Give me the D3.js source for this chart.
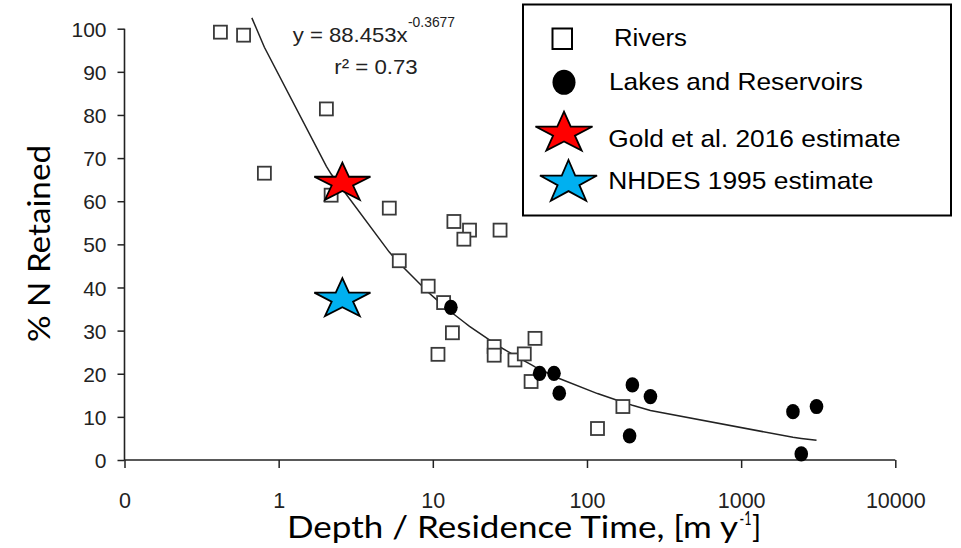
<!DOCTYPE html>
<html>
<head>
<meta charset="utf-8">
<script src="https://cdn.jsdelivr.net/npm/d3@7/dist/d3.min.js"></script>
<style>
  html, body { margin: 0; padding: 0; background: #fff; }
  svg { display: block; }
</style>
</head>
<body>
<svg id="chart" width="961" height="548"></svg>
<script>
// ---- data ----
const riversX = [0.419, 0.592, 0.808, 2.04, 2.19, 5.22, 6.06, 9.33, 11.75, 13.4, 10.8, 13.7, 17.3, 15.9, 27.3, 25.0, 25.0, 34.1, 39.2, 46.0, 43.4, 171, 117];
const riversY = [99.2, 98.5, 66.5, 81.4, 61.4, 58.4, 46.2, 40.3, 36.5, 29.5, 24.5, 55.3, 53.3, 51.2, 53.3, 26.3, 24.3, 23.2, 24.6, 28.2, 18.2, 12.4, 7.3];

const lakesX = [13.1, 49.3, 61.1, 66.1, 197, 258, 189, 2168, 3083, 2455];
const lakesY = [35.4, 20.1, 20.1, 15.5, 17.4, 14.7, 5.6, 11.2, 12.4, 1.4];

const goldX = [2.59];
const goldY = [64.2];
const nhdesX = [2.59];
const nhdesY = [37.3];

const trendX = [0.67, 0.808, 2.04, 2.19, 5.22, 6.06, 9.33, 10.8, 11.75, 13.1, 13.4, 13.7, 15.9, 17.3, 25.0, 27.3, 34.1, 39.2, 43.4, 46.0, 49.3, 61.1, 66.1, 117, 171, 189, 197, 258, 2168, 2455, 3083];
const trendY = [102.5, 95.7, 68.1, 66.3, 48.2, 45.6, 38.9, 36.9, 35.7, 34.3, 34.1, 33.8, 32.0, 31.0, 27.1, 26.2, 24.2, 23.0, 22.1, 21.6, 21.1, 19.5, 18.9, 15.4, 13.4, 12.9, 12.7, 11.5, 5.25, 5.0, 4.6];

const xTickValues = [0.1, 1, 10, 100, 1000, 10000];
const xTickLabels = ["0", "1", "10", "100", "1000", "10000"];
const yTickValues = [0, 10, 20, 30, 40, 50, 60, 70, 80, 90, 100];

const legendLabels = ["Rivers", "Lakes and Reservoirs", "Gold et al. 2016 estimate", "NHDES 1995 estimate"];

// ---- drawing ----
const svg = d3.select("#chart");
const x = d3.scaleLog().domain([0.1, 10000]).range([124.5, 895.3]);
const y = d3.scaleLinear().domain([0, 100]).range([460, 28.7]);

const tickFont = "'Liberation Sans', Arial, sans-serif";
const titleFont = "Lato, 'Open Sans', sans-serif";

// Y axis
const yAxis = d3.axisLeft(y).tickValues(yTickValues).tickSize(7).tickPadding(11).tickFormat(d3.format("d"));
const gy = svg.append("g").attr("transform", "translate(124.5,0)").call(yAxis);
gy.select(".domain").attr("stroke", "#222").attr("stroke-width", 1.6).attr("d", `M0,${y(0)}V${y(100)}`);
gy.selectAll(".tick line").attr("stroke", "#222").attr("stroke-width", 1.5);
gy.selectAll(".tick text").attr("font-family", tickFont).attr("font-size", 21).attr("fill", "#222")
  .attr("dy", "0.36em");

// X axis
const xAxis = d3.axisBottom(x).tickValues(xTickValues).tickSize(8).tickPadding(0)
  .tickFormat((d, i) => xTickLabels[i]);
const gx = svg.append("g").attr("transform", "translate(0,460)").call(xAxis);
gx.select(".domain").attr("stroke", "#222").attr("stroke-width", 1.6).attr("d", `M${x(0.1)},0H${x(10000)}`);
gx.selectAll(".tick line").attr("stroke", "#222").attr("stroke-width", 1.5);
gx.selectAll(".tick text").attr("font-family", tickFont).attr("font-size", 21.5).attr("fill", "#222")
  .attr("y", 48).attr("dy", 0);

// trend line
const line = d3.line().x(d => x(d[0])).y(d => y(d[1]));
svg.append("path")
  .datum(trendX.map((v, i) => [v, trendY[i]]))
  .attr("d", line).attr("fill", "none").attr("stroke", "#222").attr("stroke-width", 1.5);

// rivers squares
const sq = 13;
svg.append("g").selectAll("rect").data(riversX.map((v, i) => [v, riversY[i]])).join("rect")
  .attr("x", d => x(d[0]) - sq / 2).attr("y", d => y(d[1]) - sq / 2)
  .attr("width", sq).attr("height", sq)
  .attr("fill", "#fff").attr("stroke", "#3a3a3a").attr("stroke-width", 1.8);

// lakes circles
svg.append("g").selectAll("ellipse").data(lakesX.map((v, i) => [v, lakesY[i]])).join("ellipse")
  .attr("cx", d => x(d[0])).attr("cy", d => y(d[1]))
  .attr("rx", 6.8).attr("ry", 7.6).attr("fill", "#000");

// star path
function starPath(cx, cy, rx, ry) {
  const pts = [];
  const inner = 0.382;
  for (let k = 0; k < 10; k++) {
    const a = -Math.PI / 2 + k * Math.PI / 5;
    const r = k % 2 === 0 ? 1 : inner;
    pts.push([cx + Math.cos(a) * rx * r, cy + Math.sin(a) * ry * r]);
  }
  return "M" + pts.map(p => p[0].toFixed(2) + "," + p[1].toFixed(2)).join("L") + "Z";
}

svg.append("g").selectAll("path").data(goldX.map((v, i) => [v, goldY[i]])).join("path")
  .attr("d", d => starPath(x(d[0]), y(d[1]), 29.5, 20.5))
  .attr("fill", "#ff0000").attr("stroke", "#000").attr("stroke-width", 1.8).attr("stroke-linejoin", "miter");
svg.append("g").selectAll("path").data(nhdesX.map((v, i) => [v, nhdesY[i]])).join("path")
  .attr("d", d => starPath(x(d[0]), y(d[1]), 29.5, 21))
  .attr("fill", "#00b0f0").attr("stroke", "#000").attr("stroke-width", 1.8).attr("stroke-linejoin", "miter");

// equation
const eq = svg.append("g").attr("font-family", tickFont).attr("fill", "#222");
eq.append("text").attr("x", 292.7).attr("y", 41.7).attr("font-size", 21)
  .attr("textLength", 115).attr("lengthAdjust", "spacingAndGlyphs").text("y = 88.453x");
eq.append("text").attr("x", 408).attr("y", 26.5).attr("font-size", 14)
  .attr("textLength", 47).attr("lengthAdjust", "spacingAndGlyphs").text("-0.3677");
eq.append("text").attr("x", 334.3).attr("y", 74).attr("font-size", 21)
  .attr("textLength", 83.4).attr("lengthAdjust", "spacingAndGlyphs").text("r² = 0.73");

// axis titles
svg.append("text").attr("x", 287).attr("y", 538.3)
  .attr("font-family", titleFont).attr("font-size", 30).attr("fill", "#000")
  .attr("textLength", 451).attr("lengthAdjust", "spacingAndGlyphs")
  .text("Depth / Residence Time, [m y");
svg.append("text").attr("x", 739.5).attr("y", 525)
  .attr("font-family", titleFont).attr("font-size", 19).attr("fill", "#000")
  .attr("textLength", 12).attr("lengthAdjust", "spacingAndGlyphs").text("-1");
svg.append("text").attr("x", 752).attr("y", 538.3)
  .attr("font-family", titleFont).attr("font-size", 30).attr("fill", "#000").text("]");

svg.append("text").attr("transform", "translate(50,342) rotate(-90)")
  .attr("font-family", titleFont).attr("font-size", 30).attr("fill", "#000")
  .attr("textLength", 197).attr("lengthAdjust", "spacingAndGlyphs")
  .text("% N Retained");

// legend
const lg = svg.append("g");
lg.append("rect").attr("x", 523).attr("y", 4.5).attr("width", 428).attr("height", 211)
  .attr("fill", "#fff").attr("stroke", "#000").attr("stroke-width", 2);
lg.append("rect").attr("x", 552.5).attr("y", 28.5).attr("width", 19.5).attr("height", 20.5)
  .attr("fill", "#fff").attr("stroke", "#000").attr("stroke-width", 2);
lg.append("ellipse").attr("cx", 564).attr("cy", 82.3).attr("rx", 11.5).attr("ry", 12.5).attr("fill", "#000");
lg.append("path").attr("d", starPath(564, 133.2, 30, 21.5))
  .attr("fill", "#ff0000").attr("stroke", "#000").attr("stroke-width", 1.8);
lg.append("path").attr("d", starPath(568.5, 182.5, 30, 22.5))
  .attr("fill", "#00b0f0").attr("stroke", "#000").attr("stroke-width", 1.8);

const legendPos = [[614, 45.7, 73], [609, 90, 254], [608.3, 146.7, 292.4], [608.3, 189.3, 265]];
lg.selectAll("text.lt").data(legendLabels).join("text").attr("class", "lt")
  .attr("x", (d, i) => legendPos[i][0]).attr("y", (d, i) => legendPos[i][1])
  .attr("textLength", (d, i) => legendPos[i][2]).attr("lengthAdjust", "spacingAndGlyphs")
  .attr("font-family", tickFont).attr("font-size", 24.4).attr("fill", "#000")
  .text(d => d);
</script>
</body>
</html>
